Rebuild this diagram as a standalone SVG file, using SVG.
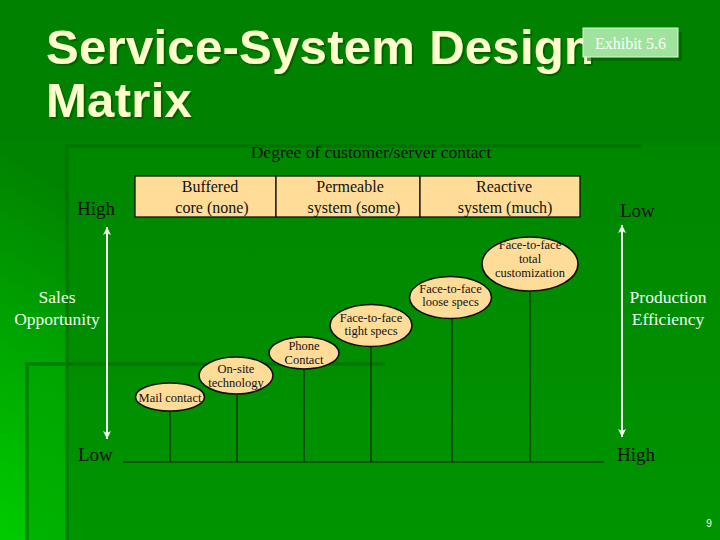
<svg xmlns="http://www.w3.org/2000/svg" width="720" height="540" viewBox="0 0 720 540">
  <defs>
    <linearGradient id="bg" gradientUnits="userSpaceOnUse" x1="0" y1="540" x2="170" y2="250">
      <stop offset="0" stop-color="#00cc00"/>
      <stop offset="1" stop-color="#008400"/>
    </linearGradient>
    <linearGradient id="inner" gradientUnits="userSpaceOnUse" x1="0" y1="146" x2="0" y2="540">
      <stop offset="0" stop-color="#008700"/>
      <stop offset="1" stop-color="#009400"/>
    </linearGradient>
    <filter id="shadow" x="-5%" y="-20%" width="110%" height="140%">
      <feDropShadow dx="2" dy="2" stdDeviation="0.6" flood-color="#003f00" flood-opacity="0.5"/>
    </filter>
    <marker id="wa" viewBox="0 0 8 8" refX="8" refY="4" markerWidth="8" markerHeight="8" markerUnits="userSpaceOnUse" orient="auto-start-reverse">
      <path d="M0,0 L8,4 L0,8 L2,4 z" fill="#f4fff4"/>
    </marker>
    <style>
      .title { font-family: "Liberation Sans", Arial, sans-serif; font-weight: bold; font-size: 49px; fill: #ffffcc; }
      .serif { font-family: "Liberation Serif", "Times New Roman", serif; }
      .dark { fill: #111; }
      .light { fill: #f0fff0; }
      .cell { fill: #ffdd99; stroke: #111; stroke-width: 1.3; }
      .node ellipse { fill: #ffdd99; stroke: #111; stroke-width: 1.6; }
      .node text { font-family: "Liberation Serif", "Times New Roman", serif; font-size: 12.5px; fill: #111; text-anchor: middle; }
      .stem { stroke: #1a1a1a; stroke-width: 1.1; fill: none; }
      .warrow { stroke: #f4fff4; stroke-width: 2; fill: none; }
      .deco { fill: none; stroke: #006e00; stroke-width: 3.5; opacity: 0.7; }
    </style>
  </defs>

  <!-- background -->
  <rect x="0" y="0" width="720" height="540" fill="#008200"/>
  <rect x="0" y="140" width="720" height="400" fill="url(#bg)"/>
  <rect x="67" y="146" width="653" height="394" fill="url(#inner)"/>
  <rect x="27" y="364" width="40" height="176" fill="#00a500" opacity="0.6"/>
  <path class="deco" d="M67,540 V146 H642"/>
  <path class="deco" d="M27,540 V364 H385"/>

  <!-- title -->
  <g id="title" filter="url(#shadow)">
    <text class="title" x="46" y="64" letter-spacing="0.3">Service-System Design</text>
    <text class="title" x="46" y="117" letter-spacing="0.3">Matrix</text>
  </g>

  <g id="exhibit">
    <rect x="587" y="32" width="95" height="29" fill="#005a00" opacity="0.6"/>
    <rect x="583" y="28" width="95" height="29" fill="#9fe39c" stroke="#d8f8d8" stroke-width="1"/>
    <text class="serif" x="630.5" y="48.5" font-size="16" fill="#ffffff" text-anchor="middle">Exhibit 5.6</text>
  </g>

  <!-- header -->
  <g id="header">
    <text class="serif dark" x="371" y="158" font-size="17.5" text-anchor="middle">Degree of customer/server contact</text>
    <g id="cell-buffered">
      <rect class="cell" x="135" y="176" width="141" height="41"/>
      <text class="serif dark" x="210" y="192" font-size="16" text-anchor="middle">Buffered</text>
      <text class="serif dark" x="212" y="213" font-size="16" text-anchor="middle">core (none)</text>
    </g>
    <g id="cell-permeable">
      <rect class="cell" x="276" y="176" width="144" height="41"/>
      <text class="serif dark" x="350" y="192" font-size="16" text-anchor="middle">Permeable</text>
      <text class="serif dark" x="354" y="213" font-size="16" text-anchor="middle">system (some)</text>
    </g>
    <g id="cell-reactive">
      <rect class="cell" x="420" y="176" width="160" height="41"/>
      <text class="serif dark" x="504" y="192" font-size="16" text-anchor="middle">Reactive</text>
      <text class="serif dark" x="505" y="213" font-size="16" text-anchor="middle">system (much)</text>
    </g>
  </g>

  <!-- axis labels -->
  <g id="labels">
    <text class="serif dark" x="77" y="215" font-size="19">High</text>
    <text class="serif dark" x="620" y="217" font-size="19">Low</text>
    <text class="serif dark" x="78" y="461" font-size="19">Low</text>
    <text class="serif dark" x="617" y="461" font-size="19">High</text>
    <text class="serif light" x="57" y="303" font-size="17.5" text-anchor="middle">Sales</text>
    <text class="serif light" x="57" y="325" font-size="17.5" text-anchor="middle">Opportunity</text>
    <text class="serif light" x="668" y="303" font-size="17.5" text-anchor="middle">Production</text>
    <text class="serif light" x="668" y="325" font-size="17.5" text-anchor="middle">Efficiency</text>
    <text x="709" y="527" font-family="Liberation Sans, Arial, sans-serif" font-size="10" fill="#f0fff0" text-anchor="middle">9</text>
  </g>

  <!-- connectors -->
  <g id="connectors">
    <line class="warrow" x1="107" y1="227" x2="107" y2="439" marker-start="url(#wa)" marker-end="url(#wa)"/>
    <line class="warrow" x1="622" y1="225" x2="622" y2="437" marker-start="url(#wa)" marker-end="url(#wa)"/>
    <line class="stem" x1="123" y1="462" x2="604" y2="462"/>
    <line class="stem" x1="170" y1="411" x2="170" y2="462"/>
    <line class="stem" x1="237" y1="394" x2="237" y2="462"/>
    <line class="stem" x1="304" y1="369" x2="304" y2="462"/>
    <line class="stem" x1="371" y1="347" x2="371" y2="462"/>
    <line class="stem" x1="452" y1="318" x2="452" y2="462"/>
    <line class="stem" x1="530" y1="291" x2="530" y2="462"/>
  </g>

  <!-- nodes -->
  <g id="mail" class="node">
    <ellipse cx="170" cy="397" rx="34.5" ry="14"/>
    <text x="170" y="401.5">Mail contact</text>
  </g>
  <g id="onsite" class="node">
    <ellipse cx="236" cy="375.5" rx="37" ry="18.5"/>
    <text x="236" y="373">On-site</text>
    <text x="236" y="387">technology</text>
  </g>
  <g id="phone" class="node">
    <ellipse cx="304" cy="353" rx="35" ry="16"/>
    <text x="304" y="350">Phone</text>
    <text x="304" y="364">Contact</text>
  </g>
  <g id="f2f-tight" class="node">
    <ellipse cx="371" cy="325.5" rx="41" ry="21"/>
    <text x="371" y="322">Face-to-face</text>
    <text x="371" y="335">tight specs</text>
  </g>
  <g id="f2f-loose" class="node">
    <ellipse cx="450.5" cy="297.5" rx="41" ry="21"/>
    <text x="450.5" y="293">Face-to-face</text>
    <text x="450.5" y="306">loose specs</text>
  </g>
  <g id="f2f-total" class="node">
    <ellipse cx="530" cy="264" rx="48" ry="27"/>
    <text x="530" y="249">Face-to-face</text>
    <text x="530" y="263">total</text>
    <text x="530" y="277">customization</text>
  </g>
</svg>
